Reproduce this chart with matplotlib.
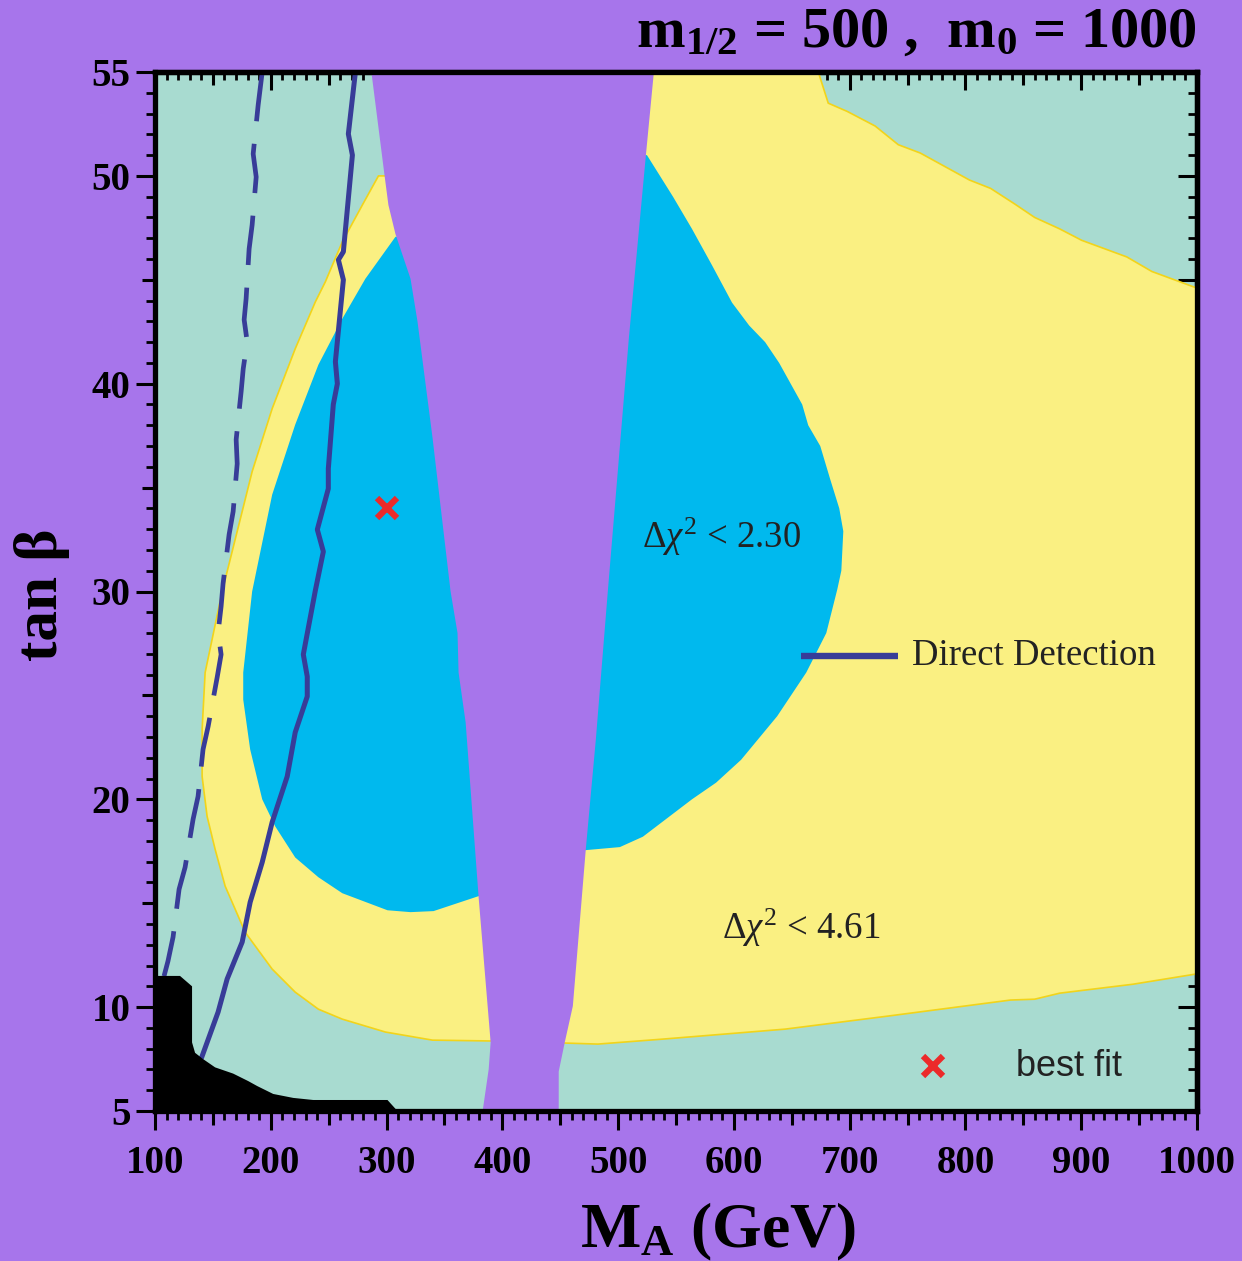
import matplotlib
matplotlib.use("Agg")
import matplotlib.pyplot as plt
from matplotlib.ticker import FixedLocator, MultipleLocator

plt.rcParams['font.family'] = 'Liberation Serif'
plt.rcParams['mathtext.fontset'] = 'custom'
plt.rcParams['mathtext.rm'] = 'Liberation Serif'
plt.rcParams['mathtext.it'] = 'Liberation Serif:italic'
plt.rcParams['mathtext.bf'] = 'Liberation Serif:bold'

# colours
purple = '#a775eb'
teal = '#a8dbd0'
yellow = '#faf082'
gold = '#f2d41a'
cyan = '#00b9ee'
navy = '#383c98'
red = '#ec2a2a'

# ---- data: M_A (GeV) vs tan(beta) ----
# excluded band, edges read from top to bottom
band_left_ma = [286.9, 298.2, 301.6, 307.7, 320.7, 326.7, 339.7, 355.3, 361.3, 362.2, 368.3, 379.5, 389.9, 388.2, 383.0]
band_left_tb = [55, 50.05, 48.6, 47.2, 45.05, 43.0, 37.4, 30.0, 28.0, 26.1, 23.7, 15.3, 8.3, 7.0, 5]
band_right_ma = [530.9, 524.0, 509.3, 491.1, 480.8, 472.1, 460.9, 453.9, 448.7, 448.7]
band_right_tb = [55, 51.0, 42.2, 30.0, 22.9, 17.6, 10.05, 8.3, 6.9, 5]

# delta chi2 < 4.61, low-M_A lobe (outer boundary, runs on under the band)
yel_left_ma = [293.0, 279.1, 261.8, 247.1, 238.5, 221.1, 201.2, 183.9, 175.3, 158.0, 143.3, 140.7, 140.7,
               145.0, 151.9, 160.6, 177.9, 201.2, 221.1, 241.1, 261.8, 299.0, 339.7, 389.9, 420, 420]
yel_left_tb = [50.0, 48.6, 46.83, 44.9, 43.94, 41.68, 38.8, 35.77, 33.85, 30.0, 26.1, 23.37, 21.1,
               19.18, 17.6, 15.82, 13.6, 11.83, 10.72, 9.9, 9.42, 8.8, 8.41, 8.37, 8.37, 50.0]

# delta chi2 < 4.61, high-M_A region
yel_right_top_ma = [430, 672.9, 681.5, 698, 722, 742, 761, 803.5, 821.7, 842.5, 859.8, 881.4, 900.4, 939.4, 961, 1000]
yel_right_top_tb = [55, 55, 53.5, 53.1, 52.4, 51.5, 51.1, 49.8, 49.4, 48.65, 48.0, 47.45, 46.9, 46.1, 45.4, 44.6]
yel_right_bot_ma = [430, 453.9, 482.5, 538.7, 644.3, 733.4, 839, 859.8, 881.4, 944.6, 1000]
yel_right_bot_tb = [8.27, 8.27, 8.22, 8.46, 8.94, 9.57, 10.34, 10.38, 10.67, 11.1, 11.6]

# delta chi2 < 2.30 lobes
cyan_left_ma = [307.7, 281.7, 261.8, 241.1, 221.1, 201.2, 183.9, 176.2, 176.2, 182.2, 192.6, 203.8, 221.1,
                241.1, 261.8, 300.8, 320.7, 340.6, 379.5, 420, 420]
cyan_left_tb = [47.07, 45.05, 43.13, 40.91, 38.03, 34.66, 30.0, 26.1, 24.8, 22.4, 20.0, 18.7, 17.2,
                16.25, 15.48, 14.66, 14.57, 14.62, 15.34, 15.34, 47.07]
cyan_right_ma = [524.9, 547.4, 563.8, 581.1, 598.4, 613.2, 627, 639.1, 659, 664.2, 674.6, 683.2, 691, 694.5,
                 692.8, 689.3, 679.8, 662.5, 637.4, 606.2, 584.6, 563.8, 521.4, 501.5, 471.2, 430, 430]
cyan_right_tb = [51.0, 49.0, 47.45, 45.7, 43.9, 42.8, 42.0, 41.0, 39.0, 38.0, 37.0, 35.4, 34.0, 32.9,
                 31.0, 30.1, 28.0, 26.1, 24.0, 21.9, 20.8, 20.0, 18.2, 17.7, 17.55, 17.55, 51.0]

# black excluded corner
black_ma = [100, 100, 121.6, 132, 132, 134.6, 141.5, 151.9, 167.5, 180.5, 188.3, 202.1, 219.4, 236.7, 300.8, 309.4]
black_tb = [5, 11.5, 11.5, 11.0, 8.3, 7.8, 7.5, 7.1, 6.8, 6.44, 6.2, 5.82, 5.63, 5.53, 5.53, 5]

# direct detection (solid) and dashed contour
dd_ma = [273.1, 267, 270.5, 262.7, 258.4, 262.7, 255.8, 257.5, 254, 249.7, 249.7, 240.2, 245.4, 238.5,
         228.1, 231.5, 231.5, 221.1, 214.2, 201.2, 192.6, 182.2, 175.3, 162.3, 154.5, 140.7]
dd_tb = [55, 52.02, 51.0, 46.35, 45.96, 45.0, 41.06, 40.0, 39.0, 35.91, 34.95, 32.98, 31.92, 30.05,
         26.97, 25.91, 24.95, 23.22, 21.1, 18.9, 16.97, 15.05, 13.13, 11.35, 9.76, 7.64]
dash_ma = [192.6, 189.1, 184.8, 187.4, 183.9, 181.3, 178.7, 177, 179.6, 176.2, 174.4, 170.1, 171, 167.5, 164,
           158.8, 157.1, 154.5, 157.1, 153.7, 145.9, 141.5, 137.2, 132.9, 126, 120.8, 115.6, 111.2, 107.8]
dash_tb = [55, 53.41, 51.06, 49.95, 47.64, 46.49, 44.09, 43.08, 42.02, 40.72, 39.62, 37.31, 36.15, 33.85, 32.74,
           30.38, 29.28, 28.03, 26.97, 25.87, 23.51, 22.4, 20.14, 19.04, 16.73, 15.67, 13.37, 12.21, 11.49]

best_fit = (300, 34)

x_ticks = list(range(100, 1001, 50))
y_ticks = list(range(5, 56, 5))
y_labelled = [5, 10, 20, 30, 40, 50, 55]

fig = plt.figure(figsize=(12.42, 12.61), dpi=100, facecolor=purple)
ax = fig.add_axes([155 / 1242, 1 - 1111 / 1261, 1042 / 1242, 1039 / 1261])
ax.set_facecolor(teal)

ax.fill(yel_left_ma, yel_left_tb, facecolor=yellow, edgecolor=gold, lw=1.2)
ax.fill(yel_right_top_ma + yel_right_bot_ma[::-1], yel_right_top_tb + yel_right_bot_tb[::-1],
        facecolor=yellow, edgecolor=gold, lw=1.2)
ax.fill(cyan_left_ma, cyan_left_tb, color=cyan, lw=0)
ax.fill(cyan_right_ma, cyan_right_tb, color=cyan, lw=0)
ax.fill(band_left_ma + band_right_ma[::-1], band_left_tb + band_right_tb[::-1], color=purple, lw=0)

ax.plot(dd_ma, dd_tb, color=navy, lw=3.6, zorder=2)
ax.plot(dash_ma, dash_tb, color=navy, lw=3.4, dashes=(10.5, 4.8), zorder=2)
ax.fill(black_ma, black_tb, color='black', lw=0, zorder=2.1)

ax.plot(*best_fit, marker='x', color=red, ms=15, mew=4.5, ls='none', zorder=3)

# in-plot key and labels
ax.plot([658, 742], [26.9, 26.9], color=navy, lw=4.6, solid_capstyle='butt', zorder=3)
ax.text(754, 26.9, 'Direct Detection', fontsize=26.5, color='#222222', va='center', ha='left')
ax.plot([772.4], [7.16], marker='x', color=red, ms=15, mew=4.5, ls='none', zorder=3)
ax.text(844, 7.16, 'best fit', fontsize=26, color='#222222', va='center', ha='left', family='Liberation Sans')
ax.text(521, 32.1, r'$\Delta\chi^2$ < 2.30', fontsize=26.5, color='#222222', va='baseline', ha='left')
ax.text(590, 13.3, r'$\Delta\chi^2$ < 4.61', fontsize=26.5, color='#222222', va='baseline', ha='left')

ax.set_xlim(100, 1000)
ax.set_ylim(5, 55)

# bottom / left: ticks outwards with labels
ax.xaxis.set_major_locator(FixedLocator(x_ticks))
ax.set_xticklabels([str(v) if v % 100 == 0 else '' for v in x_ticks])
ax.xaxis.set_minor_locator(MultipleLocator(10))
ax.yaxis.set_major_locator(FixedLocator(y_ticks))
ax.set_yticklabels([str(v) if v in y_labelled else '' for v in y_ticks])
ax.yaxis.set_minor_locator(MultipleLocator(1))
ax.tick_params(which='major', direction='out', length=13.5, width=2.2, labelsize=28, top=False, right=False)
ax.tick_params(axis='x', which='major', pad=11)
ax.tick_params(axis='y', which='major', pad=4)
ax.tick_params(which='minor', direction='out', length=6.5, width=2.0, top=False, right=False)
for lab in ax.get_xticklabels() + ax.get_yticklabels():
    lab.set_fontweight('bold')
for t, v in zip(ax.xaxis.get_major_ticks(), x_ticks):
    if v % 100:
        t.tick1line.set_markersize(10)
for t, v in zip(ax.yaxis.get_major_ticks(), y_ticks):
    if v not in y_labelled:
        t.tick1line.set_markersize(9.5)
for s in ax.spines.values():
    s.set_linewidth(3.8)

# top / right: ticks inwards, no labels
top = ax.secondary_xaxis('top')
top.xaxis.set_major_locator(FixedLocator(x_ticks))
top.xaxis.set_minor_locator(MultipleLocator(10))
top.tick_params(which='major', direction='in', length=13, width=2.2, labeltop=False)
top.tick_params(which='minor', direction='in', length=6, width=2.0)
top.spines['top'].set_linewidth(3.8)
for t, v in zip(top.xaxis.get_major_ticks(), x_ticks):
    if v % 100:
        t.tick2line.set_markersize(9.5)
right = ax.secondary_yaxis('right')
right.yaxis.set_major_locator(FixedLocator(y_ticks))
right.yaxis.set_minor_locator(MultipleLocator(1))
right.tick_params(which='major', direction='in', length=13.5, width=2.2, labelright=False)
right.tick_params(which='minor', direction='in', length=6.5, width=2.0)
right.spines['right'].set_linewidth(3.8)

fig.text(1197 / 1242, 1 - 47 / 1261, r'$\mathbf{m_{1/2}}$ = 500 ,  $\mathbf{m_0}$ = 1000',
         fontsize=42, fontweight='bold', ha='right', va='baseline')
fig.text(718 / 1242, 1 - 1247 / 1261, r'$\mathbf{M_A}$ (GeV)', fontsize=46, fontweight='bold',
         ha='center', va='baseline')
fig.text(42 / 1242, 1 - 595 / 1261, 'tan β', fontsize=44, fontweight='bold', rotation=90,
         ha='center', va='center')

fig.savefig('out.png', dpi=100, facecolor=purple)
